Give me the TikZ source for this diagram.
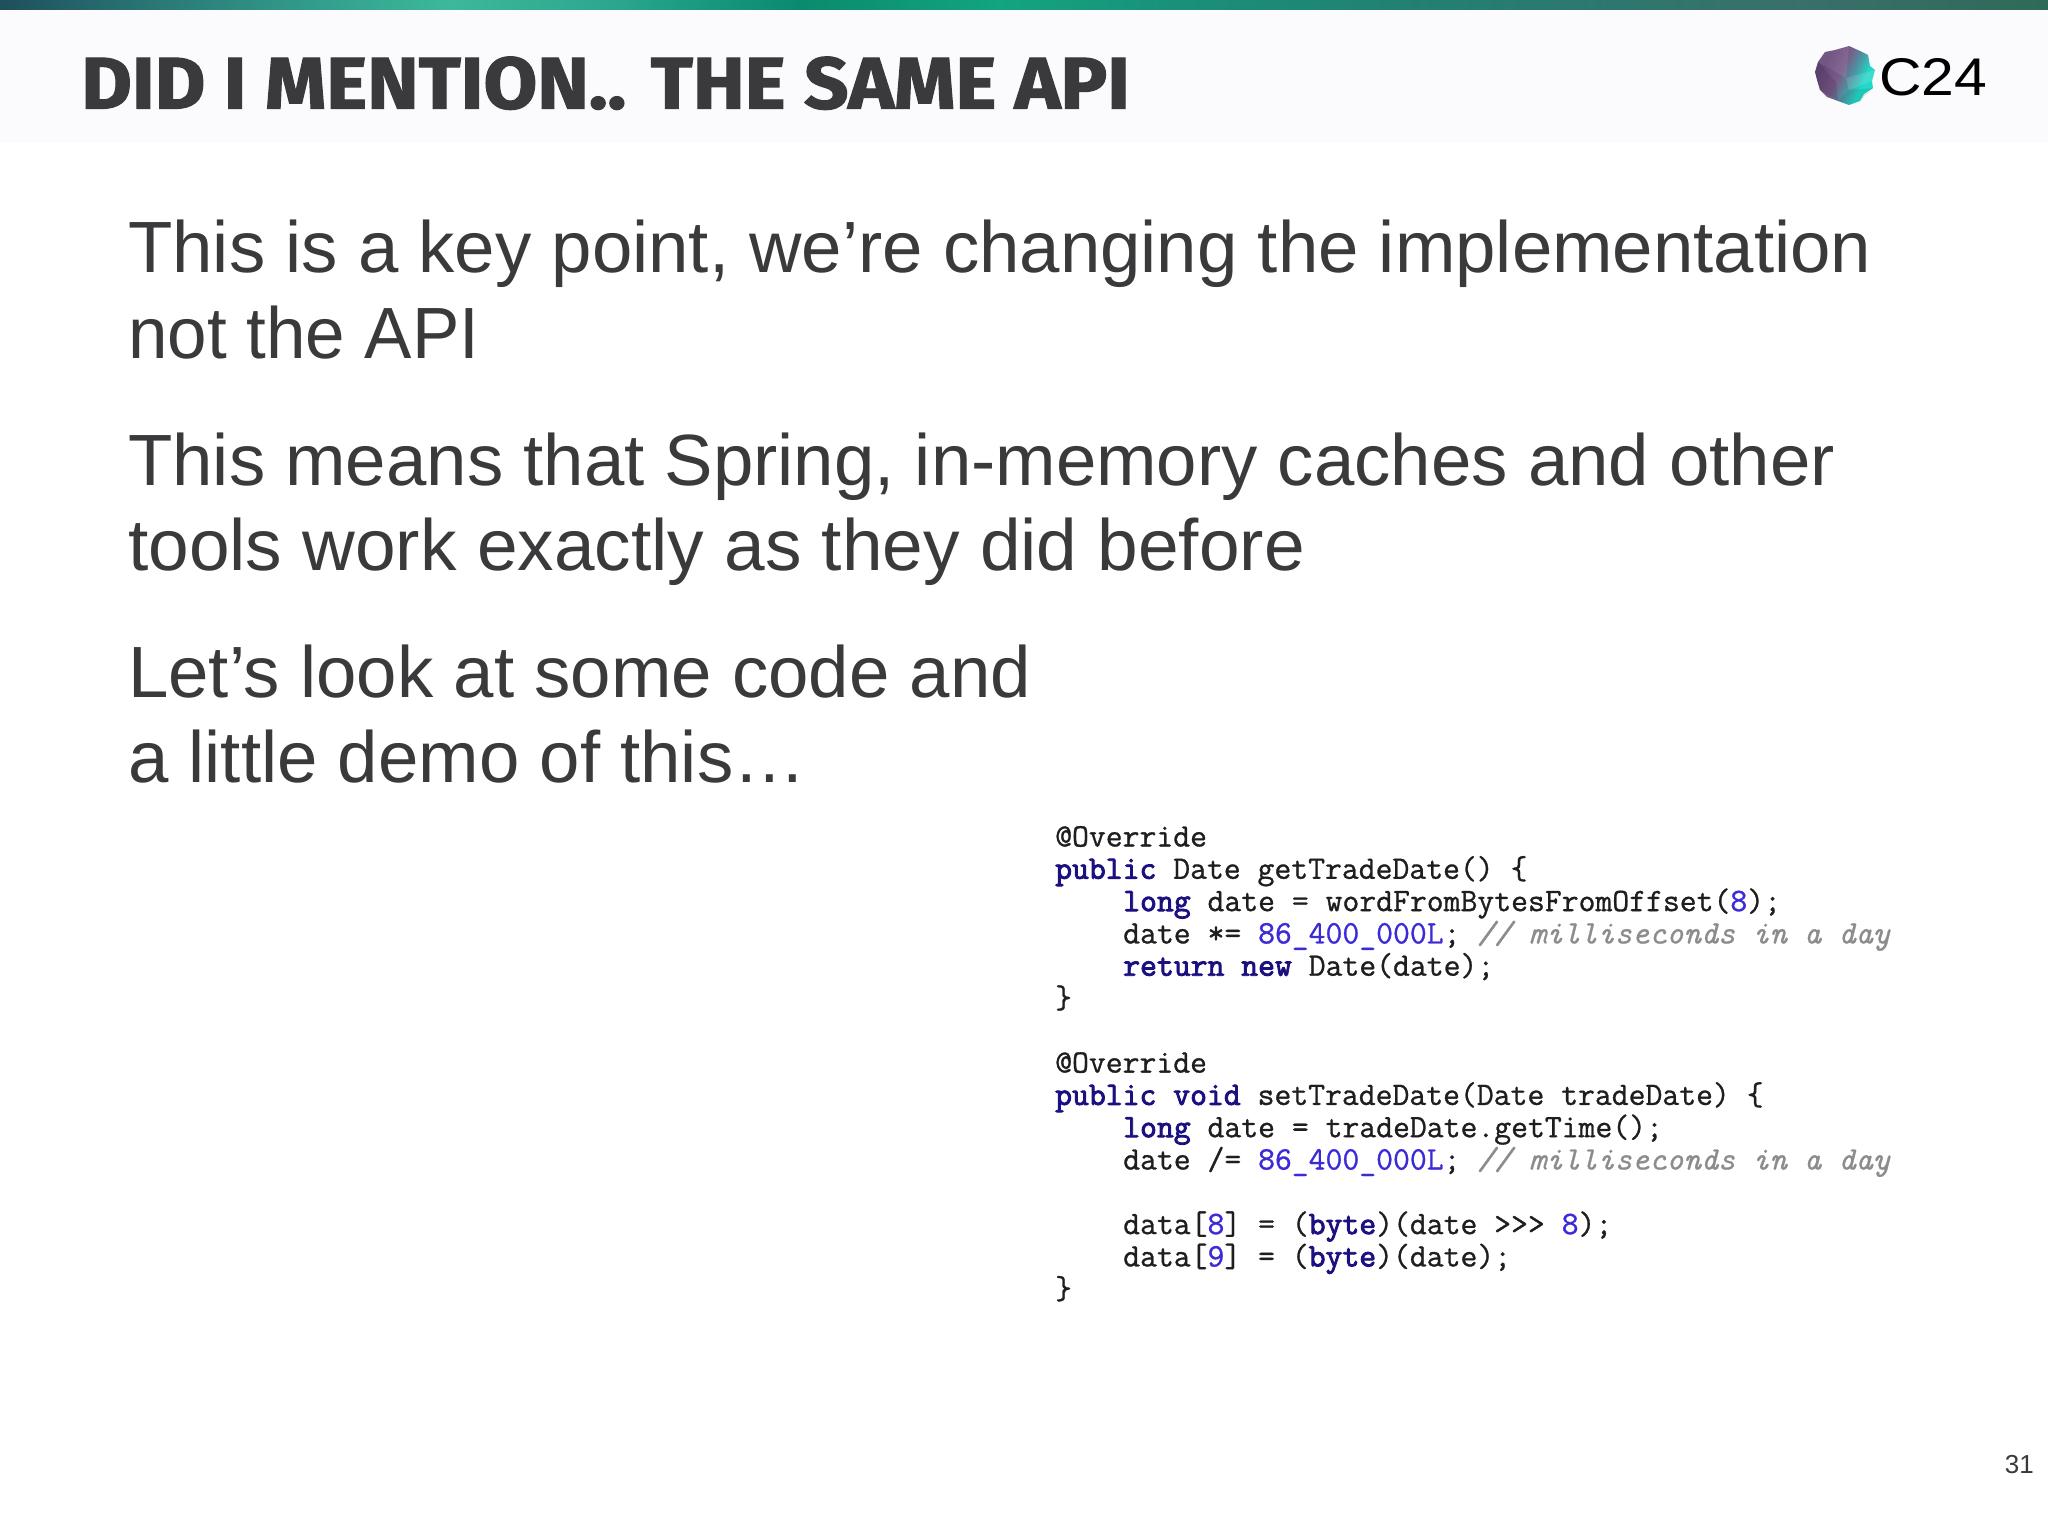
\documentclass[tikz,border=0pt]{standalone}
\usepackage{fontspec}
\setmainfont{Liberation Sans}
\newfontfamily\titlefont[BoldFeatures={FakeBold=1.6}]{Fira Sans}
\setmonofont[FakeBold=0.9,BoldFont={Latin Modern Mono},BoldFeatures={FakeBold=2.6},ItalicFeatures={FakeBold=0.7}]{Latin Modern Mono}
\definecolor{bodyink}{HTML}{3A3A3C}
\definecolor{titleink}{HTML}{3A3A3C}
\definecolor{kw}{HTML}{1B1080}
\definecolor{num}{HTML}{3A2AD8}
\definecolor{cmt}{HTML}{8C8C8C}
\definecolor{codeink}{HTML}{1E1E1E}
\definecolor{band}{HTML}{FBFBFD}
\definecolor{tba}{HTML}{1F4F5C}
\definecolor{tbb}{HTML}{2A7A78}
\definecolor{tbc}{HTML}{33A08E}
\definecolor{tbd}{HTML}{3CB99A}
\definecolor{tbe}{HTML}{2AA78E}
\definecolor{tbf}{HTML}{0A8A6E}
\definecolor{tbg}{HTML}{12A57F}
\definecolor{tbh}{HTML}{1A8F7A}
\definecolor{tbi}{HTML}{237F72}
\definecolor{tbj}{HTML}{3A6F6A}
\definecolor{tbk}{HTML}{2F6A58}
\definecolor{bla}{HTML}{66487A}
\definecolor{blb}{HTML}{7A5A88}
\definecolor{blc}{HTML}{4F90A0}
\definecolor{bld}{HTML}{22D8C8}
\pgfdeclarehorizontalshading{topbar}{100bp}{
  color(0bp)=(tba); color(25bp)=(tba); color(29bp)=(tbb); color(33bp)=(tbc);
  color(36bp)=(tbd); color(40bp)=(tbe); color(44.5bp)=(tbf); color(49.4bp)=(tbg);
  color(54bp)=(tbh); color(60bp)=(tbi); color(69bp)=(tbj); color(75bp)=(tbk); color(100bp)=(tbk)}
\pgfdeclarehorizontalshading{ballshade}{100bp}{
  color(0bp)=(bla); color(30bp)=(bla); color(45bp)=(blb); color(55bp)=(blc); color(66bp)=(bld); color(100bp)=(bld)}
\tikzset{
  x=1pt,y=-1pt,
  body/.style={anchor=base west,inner sep=0pt,text=bodyink,font=\fontsize{72.6}{80}\selectfont},
  code/.style={anchor=base west,inner sep=0pt,text=codeink,font=\ttfamily\fontsize{32.75}{34}\selectfont},
}
\newcommand{\kwd}[1]{\textcolor{kw}{\bfseries #1}}
\newcommand{\nmb}[1]{\textcolor{num}{#1}}
\newcommand{\cmn}[1]{\textcolor{cmt}{\itshape #1}}
\begin{document}
\begin{tikzpicture}
\useasboundingbox (0,0) rectangle (2048,1536);
\fill[white] (0,0) rectangle (2048,1536);
\fill[band] (0,10) rectangle (2048,143);
\shade[shading=topbar] (0,0) rectangle (2048,10);
\node[anchor=base west,inner sep=0pt,text=titleink,xscale=1.066,font=\titlefont\bfseries\fontsize{73}{80}\selectfont] (title) at (81,108.5) {DID I MENTION.. THE SAME API};
% logo
\shade[shading=ballshade,shading angle=-25] (1815,72) -- (1818,62) -- (1825,52) -- (1835,50) -- (1849,46) -- (1860,51) -- (1868,55) -- (1870,66) -- (1875,70) -- (1872,81) -- (1873,88) -- (1864,94) -- (1860,101) -- (1849,105) -- (1838,101) -- (1827,97) -- (1820,90) -- (1817,80) -- cycle;
\fill[white,opacity=.08] (1825,52) -- (1849,46) -- (1846,78) -- (1818,62) -- cycle;
\fill[black,opacity=.10] (1815,72) -- (1818,62) -- (1836,82) -- (1838,101) -- (1820,90) -- cycle;
\fill[white,opacity=.12] (1846,78) -- (1875,70) -- (1872,81) -- (1849,90) -- cycle;
\fill[black,opacity=.08] (1838,101) -- (1849,90) -- (1873,88) -- (1860,101) -- (1849,105) -- cycle;
\node[anchor=base west,inner sep=0pt,text=black,xscale=1.11,font=\fontsize{53}{56}\selectfont] (brand) at (1879,96) {C24};
% body
\node[body] (l1) at (128,272) {This is a key point, we’re changing the implementation};
\node[body,xscale=.978] (l2) at (128,358) {not the API};
\node[body] (l3) at (128,485) {This means that Spring, in-memory caches and other};
\node[body,xscale=1.0056] (l4) at (128,570) {tools work exactly as they did before};
\node[body] (l5) at (128,697) {Let’s look at some code and};
\node[body] (l6) at (128,782) {a little demo of this…};
% code
\node[code] (c0) at (1055,846.5) {@Override};
\node[code] (c1) at (1055,878.8) {\kwd{public} Date getTradeDate() \{};
\node[code] (c2) at (1123,911.1) {\kwd{long} date = wordFromBytesFromOffset(\nmb{8});};
\node[code] (c3) at (1123,943.4) {date *= \nmb{86\_400\_000L}; \cmn{// milliseconds in a day}};
\node[code] (c4) at (1123,975.7) {\kwd{return new} Date(date);};
\node[code] (c5) at (1055,1008) {\}};
\node[code] (c7) at (1055,1072.6) {@Override};
\node[code] (c8) at (1055,1104.9) {\kwd{public void} setTradeDate(Date tradeDate) \{};
\node[code] (c9) at (1123,1137.2) {\kwd{long} date = tradeDate.getTime();};
\node[code] (c10) at (1123,1169.5) {date /= \nmb{86\_400\_000L}; \cmn{// milliseconds in a day}};
\node[code] (c12) at (1123,1234.1) {data[\nmb{8}] = (\kwd{byte})(date >>> \nmb{8});};
\node[code] (c13) at (1123,1266.4) {data[\nmb{9}] = (\kwd{byte})(date);};
\node[code] (c14) at (1055,1298.7) {\}};
\node[anchor=base east,inner sep=0pt,text=bodyink,font=\fontsize{26}{30}\selectfont] (page) at (2034,1473) {31};
\end{tikzpicture}
\end{document}
